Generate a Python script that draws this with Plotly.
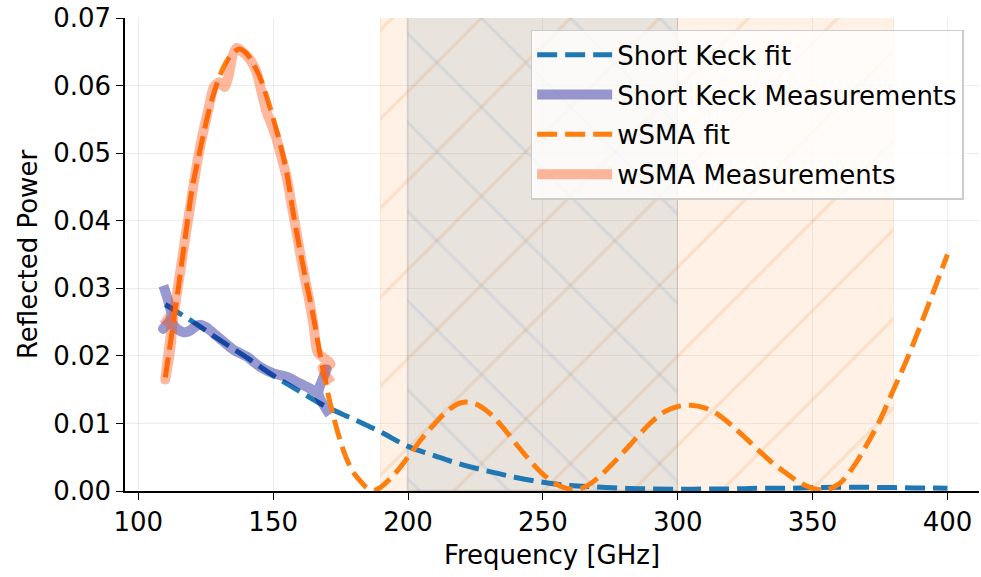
import plotly.graph_objects as go

# ---------------- data ----------------
keck_fit_freq = [110, 120, 130, 140, 150, 160, 170, 180, 190, 200, 210, 220, 230, 240, 250,
                 260, 270, 280, 290, 300, 310, 320, 330, 340, 350, 360, 370, 380, 390, 400]
keck_fit_val = [0.0276, 0.0251, 0.0224, 0.0198, 0.0171, 0.0147, 0.0124, 0.0106, 0.0087, 0.0066,
                0.0052, 0.0039, 0.0029, 0.0020, 0.0013, 0.0008, 0.0006, 0.0004, 0.0003, 0.00025,
                0.0003, 0.0003, 0.0004, 0.0004, 0.0005, 0.00055, 0.00055, 0.0005, 0.00045, 0.0004]

keck_meas_freq = [109.3, 112.2, 109.2, 112.0, 114.0, 116.7, 119.0, 121.0, 122.9, 125.0, 128.0,
                  131.6, 135.3, 140.2, 145.1, 150.1, 155.0, 160.0, 163.5, 166.0, 169.8, 166.8,
                  171.0]
keck_meas_val = [0.0304, 0.0257, 0.0240, 0.0250, 0.0241, 0.0235, 0.0237, 0.0243, 0.0246, 0.0243,
                 0.0233, 0.0221, 0.0209, 0.0199, 0.0184, 0.0174, 0.0169, 0.0159, 0.0152, 0.0147,
                 0.0180, 0.0145, 0.0113]

wsma_fit_freq = [110, 112.5, 115, 117.5, 120, 122.5, 125, 127.5, 130, 132.5, 135, 137.5, 140,
                 142.5, 145, 147.5, 150, 152.5, 155, 157.5, 160, 162.5, 165, 167.5, 170, 172.5,
                 175, 177.5, 180, 182.5, 185, 187.5, 190, 195, 200, 205, 210, 215, 220, 225,
                 230, 235, 240, 245, 250, 255, 260, 265, 270, 275, 280, 285, 290, 295, 300,
                 305, 310, 315, 320, 325, 330, 335, 340, 345, 350, 355, 360, 365, 370, 375,
                 380, 385, 390, 395, 400]
wsma_fit_val = [0.0168, 0.0235, 0.0305, 0.0378, 0.0448, 0.0497, 0.0543, 0.0582, 0.0612, 0.0634,
                0.0648, 0.0654, 0.0648, 0.0633, 0.0613, 0.0585, 0.0552, 0.0515, 0.0472, 0.0410,
                0.0355, 0.0305, 0.0256, 0.0200, 0.0150, 0.0108, 0.0073, 0.0045, 0.0026, 0.0014,
                0.0004, 0.0001, 0.0006, 0.0025, 0.0050, 0.0077, 0.0100, 0.0120, 0.0131, 0.0129,
                0.0116, 0.0095, 0.0070, 0.0046, 0.0025, 0.0010, 0.0003, 0.0005, 0.0018, 0.0037,
                0.0058, 0.0080, 0.0101, 0.0117, 0.0125, 0.0127, 0.0123, 0.0113, 0.0097, 0.0079,
                0.0060, 0.0042, 0.0027, 0.0013, 0.0004, 0.0002, 0.0011, 0.0035, 0.0068, 0.0105,
                0.0150, 0.0195, 0.0245, 0.0297, 0.0350]

wsma_meas_freq = [109.0, 112.3, 110.0, 112.0, 115, 118, 120, 122, 124, 126, 128, 130, 132, 133.5,
                  135, 136.5, 138, 140, 142, 144, 146, 147.5, 149, 151, 153, 155, 157, 159, 161,
                  163, 165, 166.5, 171.3, 168.3, 171.5]
wsma_meas_val = [0.0256, 0.0243, 0.0165, 0.0230, 0.0310, 0.0390, 0.0440, 0.0490, 0.0530, 0.0565,
                 0.0598, 0.0605, 0.0598, 0.0615, 0.0645, 0.0656, 0.0652, 0.0645, 0.0635, 0.0618,
                 0.0585, 0.0562, 0.0546, 0.0525, 0.0495, 0.0465, 0.0420, 0.0375, 0.0330, 0.0290,
                 0.0245, 0.0205, 0.0188, 0.0182, 0.0160]

band_wide = [190, 380]      # orange shaded band [GHz]
band_core = [200, 300]      # grey cross-hatched band [GHz]
y_top = 0.07

x_ticks = [100, 150, 200, 250, 300, 350, 400]
y_ticks = [0.00, 0.01, 0.02, 0.03, 0.04, 0.05, 0.06, 0.07]

FONT = "DejaVu Sans"
FS = 26
BLUE = "#1f77b4"
ORANGE = "#ff7f0e"

fig = go.Figure()

# shaded bands (bars spanning the band width)
fig.add_trace(go.Bar(
    x=[(band_wide[0] + band_wide[1]) / 2], y=[y_top], width=[band_wide[1] - band_wide[0]],
    base=0, marker=dict(color="rgba(255,127,14,0.11)", line=dict(width=1, color="rgba(255,127,14,0.15)"),
                        pattern=dict(shape="/", fgcolor="rgba(230,120,30,0.32)", size=63,
                                     solidity=0.05, fillmode="overlay")),
    showlegend=False, hoverinfo="skip"))
fig.add_trace(go.Bar(
    x=[(band_core[0] + band_core[1]) / 2], y=[y_top], width=[band_core[1] - band_core[0]],
    base=0, marker=dict(color="rgba(100,140,170,0.14)", line=dict(width=1.2, color="rgba(110,125,135,0.25)"),
                        pattern=dict(shape="\\", fgcolor="rgba(70,130,180,0.25)", size=63,
                                     solidity=0.05, fillmode="overlay")),
    showlegend=False, hoverinfo="skip"))

fig.add_trace(go.Scatter(x=keck_fit_freq, y=keck_fit_val, mode="lines", name="Short Keck fit",
                         legendgroup="a",
                         line=dict(color=BLUE, width=5, dash="20px,8px", shape="spline")))
fig.add_trace(go.Scatter(x=keck_meas_freq, y=keck_meas_val, mode="lines",
                         name="Short Keck Measurements", legendgroup="b",
                         line=dict(color="rgba(0,0,139,0.4)", width=10, shape="spline",
                                   smoothing=0.7)))
fig.add_trace(go.Scatter(x=wsma_fit_freq, y=wsma_fit_val, mode="lines", name="wSMA fit",
                         legendgroup="c",
                         line=dict(color=ORANGE, width=5, dash="20px,8px", shape="spline")))
fig.add_trace(go.Scatter(x=wsma_meas_freq, y=wsma_meas_val, mode="lines",
                         name="wSMA Measurements", legendgroup="d",
                         line=dict(color="rgba(255,69,0,0.38)", width=10, shape="spline",
                                   smoothing=0.7)))

axis_common = dict(showline=True, linecolor="black", linewidth=1.5, mirror=False,
                   ticks="outside", ticklen=7, tickwidth=1.4, tickcolor="black",
                   showgrid=True, gridcolor="rgba(0,0,0,0.07)", gridwidth=1.3,
                   zeroline=False, tickfont=dict(family=FONT, size=FS, color="black"))

fig.update_layout(
    width=981, height=577,
    margin=dict(l=125, r=2, t=18, b=86),
    plot_bgcolor="white", paper_bgcolor="white",
    barmode="overlay", bargap=0,
    font=dict(family=FONT, size=FS, color="black"),
    xaxis=dict(range=[95.07, 411.7], tickvals=x_ticks,
               title=dict(text="Frequency [GHz]", font=dict(family=FONT, size=FS), standoff=10),
               **axis_common),
    yaxis=dict(range=[0, y_top], tickvals=y_ticks, tickformat=".2f",
               title=dict(text="Reflected Power", font=dict(family=FONT, size=FS), standoff=8),
               **axis_common),
    legend=dict(x=0.475, y=0.975, xanchor="left", yanchor="top",
                bgcolor="rgba(255,255,255,0.8)", bordercolor="#cccccc", borderwidth=1.5,
                font=dict(family=FONT, size=FS), itemwidth=75, tracegroupgap=3),
)

fig.write_html("out.html")
